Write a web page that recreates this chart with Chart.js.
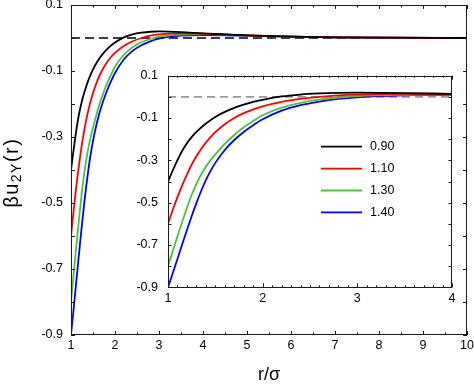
<!DOCTYPE html>
<html>
  <head>
    <script src="https://cdn.jsdelivr.net/npm/chart.js"></script>
    <style>
      body { margin: 0; background: #fff; }
      #wrap { position: relative; width: 474px; height: 384px; }
      #main-chart { position: absolute; left: 0; top: 0; }
      #inset-chart { position: absolute; left: 130px; top: 60px; }
    </style>
  </head>
  <body>
    <div id="wrap">
      <canvas id="main-chart" width="474" height="384"></canvas>
      <canvas id="inset-chart" width="332" height="250"></canvas>
    </div>
    <script>
      // r/sigma values and beta*u_2Y(r) for each curve
      var r    = [1.0, 1.05, 1.1, 1.15, 1.2, 1.25, 1.3, 1.35, 1.4, 1.45, 1.5, 1.6, 1.7, 1.8, 1.9, 2.0, 2.2, 2.4, 2.6, 2.8, 3.0, 3.5, 4.0, 5.0, 6.0, 7.0, 8.0, 10.0];
      var u090 = [-0.400, -0.348, -0.299, -0.255, -0.219, -0.190, -0.166, -0.145, -0.126, -0.110, -0.095, -0.071, -0.052, -0.037, -0.024, -0.014, 0.002, 0.011, 0.016, 0.019, 0.020, 0.018, 0.014, 0.008, 0.004, 0.002, 0.001, 0.000];
      var u110 = [-0.600, -0.535, -0.474, -0.418, -0.367, -0.321, -0.281, -0.246, -0.216, -0.190, -0.167, -0.129, -0.100, -0.077, -0.059, -0.045, -0.024, -0.010, 0.000, 0.007, 0.011, 0.014, 0.013, 0.008, 0.004, 0.002, 0.001, 0.000];
      var u130 = [-0.800, -0.729, -0.659, -0.591, -0.525, -0.464, -0.411, -0.367, -0.330, -0.299, -0.272, -0.222, -0.180, -0.144, -0.114, -0.087, -0.051, -0.028, -0.013, -0.003, 0.004, 0.010, 0.012, 0.008, 0.004, 0.002, 0.001, 0.000];
      var u140 = [-0.900, -0.834, -0.766, -0.697, -0.630, -0.564, -0.502, -0.445, -0.394, -0.350, -0.312, -0.251, -0.204, -0.166, -0.134, -0.106, -0.065, -0.039, -0.022, -0.010, -0.002, 0.007, 0.009, 0.007, 0.004, 0.002, 0.001, 0.000];

      var seriesLabels = ['0.90', '1.10', '1.30', '1.40'];
      var seriesValues = [u090, u110, u130, u140];
      var seriesColors = ['#000000', '#ff0000', '#4cc23c', '#0000ff'];

      var yTickValues      = [0.1, -0.1, -0.3, -0.5, -0.7, -0.9];
      var mainXTickValues  = [1, 2, 3, 4, 5, 6, 7, 8, 9, 10];
      var insetXTickValues = [1, 2, 3, 4];

      var FONT = '"Liberation Sans", Arial, sans-serif';

      function points(ys) {
        return r.map(function (x, i) { return { x: x, y: ys[i] }; });
      }

      function buildDatasets(zeroColor, zeroDash) {
        var sets = seriesValues.map(function (ys, i) {
          return {
            label: seriesLabels[i],
            data: points(ys),
            borderColor: seriesColors[i],
            borderWidth: 1.8,
            pointRadius: 0,
            cubicInterpolationMode: 'monotone',
            fill: false
          };
        });
        // zero reference line, last so it sits under the curves
        sets.push({
          label: 'zero',
          data: [{ x: r[0], y: 0 }, { x: r[r.length - 1], y: 0 }],
          borderColor: zeroColor,
          borderWidth: 1.6,
          borderDash: zeroDash,
          pointRadius: 0
        });
        return sets;
      }

      // box frame with inward ticks on all four sides
      var frameTicks = {
        id: 'frameTicks',
        afterDraw: function (chart, args, opts) {
          var a = chart.chartArea, ctx = chart.ctx;
          var sx = chart.scales.x, sy = chart.scales.y;
          ctx.save();
          ctx.strokeStyle = '#1a1a1a';
          ctx.lineWidth = 1;
          ctx.strokeRect(Math.round(a.left) + 0.5, Math.round(a.top) + 0.5,
                         Math.round(a.width) - 1, Math.round(a.height) - 1);
          ctx.beginPath();
          var n = Math.round((sx.max - sx.min) / opts.xStep);
          for (var i = 0; i <= n; i++) {
            var v = sx.min + i * opts.xStep;
            var major = Math.abs(v - Math.round(v)) < 1e-6;
            var len = major ? opts.majorLen : opts.minorLen;
            var px = Math.round(sx.getPixelForValue(v)) + 0.5;
            ctx.moveTo(px, a.bottom); ctx.lineTo(px, a.bottom - len);
            ctx.moveTo(px, a.top); ctx.lineTo(px, a.top + len);
          }
          var m = Math.round((sy.max - sy.min) / opts.yStep);
          for (var j = 0; j <= m; j++) {
            var w = sy.min + j * opts.yStep;
            var py = Math.round(sy.getPixelForValue(w)) + 0.5;
            ctx.moveTo(a.left, py); ctx.lineTo(a.left + opts.yLen, py);
            ctx.moveTo(a.right, py); ctx.lineTo(a.right - opts.yLen, py);
          }
          ctx.stroke();
          ctx.restore();
        }
      };

      // rotated y title with subscript: beta u_2Y (r)
      var yTitle = {
        id: 'yTitle',
        afterDraw: function (chart, args, opts) {
          var ctx = chart.ctx, a = chart.chartArea;
          var big = opts.size + 'px ' + FONT, small = opts.subSize + 'px ' + FONT;
          var parts = [
            { t: '\u03b2', f: big, dy: 0 }, { t: 'u', f: big, dy: 0 },
            { t: '2', f: small, dy: opts.subDrop }, { t: 'Y', f: small, dy: opts.subDrop },
            { t: '(', f: big, dy: 0 }, { t: 'r', f: big, dy: 0 }, { t: ')', f: big, dy: 0 }
          ];
          ctx.save();
          ctx.fillStyle = '#000';
          ctx.textBaseline = 'middle';
          var total = 0;
          parts.forEach(function (p) {
            ctx.font = p.f;
            p.w = ctx.measureText(p.t).width;
            total += p.w;
          });
          total += opts.spacing * (parts.length - 1);
          ctx.translate(opts.x, (a.top + a.bottom) / 2 + opts.dy);
          ctx.rotate(-Math.PI / 2);
          var x = -total / 2;
          parts.forEach(function (p) {
            ctx.font = p.f;
            ctx.fillText(p.t, x, p.dy);
            x += p.w + opts.spacing;
          });
          ctx.restore();
        }
      };

      // legend inside the inset
      var insetLegend = {
        id: 'insetLegend',
        afterDraw: function (chart, args, opts) {
          var ctx = chart.ctx, a = chart.chartArea;
          ctx.save();
          ctx.font = opts.size + 'px ' + FONT;
          ctx.textBaseline = 'middle';
          ctx.lineWidth = 1.8;
          seriesLabels.forEach(function (lab, i) {
            var y = a.top + opts.top + i * opts.rowH;
            ctx.strokeStyle = seriesColors[i];
            ctx.beginPath();
            ctx.moveTo(a.left + opts.left, y);
            ctx.lineTo(a.left + opts.left + opts.lineLen, y);
            ctx.stroke();
            ctx.fillStyle = '#000';
            ctx.fillText(lab, a.left + opts.left + opts.lineLen + opts.gap, y);
          });
          ctx.restore();
        }
      };

      function axisOpts(min, max, tickValues, fmt, size, padding, fixSize, isY) {
        return {
          type: 'linear',
          min: min,
          max: max,
          grid: { display: false, drawTicks: false },
          border: { display: false },
          afterBuildTicks: function (s) {
            s.ticks = tickValues.map(function (v) { return { value: v }; });
          },
          afterFit: function (s) {
            if (isY) { s.width = fixSize; } else { s.height = fixSize; }
            s.paddingTop = 0; s.paddingBottom = 0; s.paddingLeft = 0; s.paddingRight = 0;
          },
          ticks: {
            autoSkip: false,
            maxRotation: 0,
            padding: padding,
            color: '#000',
            font: { family: FONT, size: size },
            callback: fmt
          }
        };
      }

      var fmtY = function (v) { return v.toFixed(1); };
      var fmtX = function (v) { return String(v); };

      var mainX = axisOpts(1, 10, mainXTickValues, fmtX, 12.5, 3.5, 49, false);
      mainX.title = { display: true, text: 'r/\u03c3', color: '#000', padding: 0,
                      font: { family: FONT, size: 18, lineHeight: 1 } };
      var mainY = axisOpts(-0.9, 0.1, yTickValues, fmtY, 12.5, 8, 71, true);

      new Chart(document.getElementById('main-chart').getContext('2d'), {
        type: 'line',
        data: { datasets: buildDatasets('#000000', [9, 5]) },
        options: {
          responsive: false,
          animation: false,
          layout: { padding: { top: 5, right: 7, left: 0, bottom: 0 } },
          scales: { x: mainX, y: mainY },
          plugins: {
            legend: { display: false },
            tooltip: { enabled: false },
            frameTicks: { xStep: 0.5, yStep: 0.1, majorLen: 4, minorLen: 2.5, yLen: 4 },
            yTitle: { size: 20, subSize: 14, subDrop: 5, spacing: 1.5, x: 12, dy: 3.5 }
          }
        },
        plugins: [frameTicks, yTitle]
      });

      var insetX = axisOpts(1, 4, insetXTickValues, fmtX, 12.5, 3.5, 22.7, false);
      var insetY = axisOpts(-0.9, 0.1, yTickValues, fmtY, 12.5, 10, 38, true);

      new Chart(document.getElementById('inset-chart').getContext('2d'), {
        type: 'line',
        data: { datasets: buildDatasets('#999999', [8, 5]) },
        options: {
          responsive: false,
          animation: false,
          layout: { padding: { top: 15.7, right: 10, left: 0, bottom: 0 } },
          scales: { x: insetX, y: insetY },
          plugins: {
            legend: { display: false },
            tooltip: { enabled: false },
            frameTicks: { xStep: 0.1, yStep: 0.1, majorLen: 4, minorLen: 2, yLen: 3.5 },
            insetLegend: { size: 12.5, top: 71, rowH: 21.9, left: 153, lineLen: 41, gap: 8 }
          }
        },
        plugins: [frameTicks, insetLegend]
      });
    </script>
  </body>
</html>
